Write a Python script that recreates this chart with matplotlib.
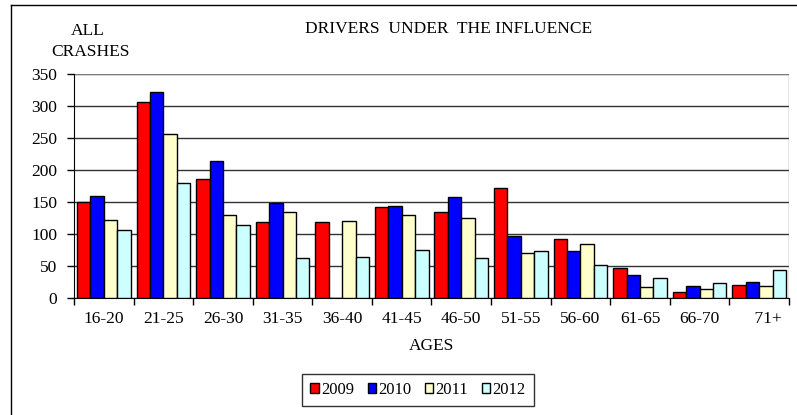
import matplotlib
matplotlib.use("Agg")
import matplotlib.pyplot as plt
import numpy as np
from matplotlib.lines import Line2D

categories = ["16-20", "21-25", "26-30", "31-35", "36-40", "41-45",
              "46-50", "51-55", "56-60", "61-65", "66-70", "    71+"]
years = ["2009", "2010", "2011", "2012"]
v2009 = [150, 307, 186, 118, 118, 142, 134, 172, 92, 47, 10, 21]
v2010 = [160, 322, 214, 149, 0, 144, 158, 97, 73, 36, 19, 25]
v2011 = [122, 257, 129, 134, 121, 129, 125, 71, 84, 17, 14, 19]
v2012 = [107, 179, 114, 62, 64, 75, 62, 73, 51, 32, 23, 43]
yticks = [0, 50, 100, 150, 200, 250, 300, 350]

colors = ["#FF0000", "#0000FF", "#FFFFCC", "#CCFFFF"]
series = [v2009, v2010, v2011, v2012]

plt.rcParams['font.family'] = ['Liberation Serif', 'DejaVu Serif']
FS = 12.5

fig = plt.figure(figsize=(7.97, 4.15), dpi=100)
ax = fig.add_axes([74/797, (415-298)/415, (789-74)/797, (298-74)/415])

x = np.arange(len(categories))
w = 0.225
for i, (vals, c, yr) in enumerate(zip(series, colors, years)):
    ax.bar(x + (i - 1.5) * w, vals, width=w, color=c, edgecolor="black",
           linewidth=1.0, label=yr, zorder=3)

ax.set_xlim(-0.5, len(categories) - 0.5)
ax.set_ylim(0, 350)
ax.set_yticks(yticks)
ax.set_yticklabels([str(t) for t in yticks], fontsize=FS)
ax.yaxis.grid(True, color="#333333", linewidth=1.0, zorder=0)
ax.set_axisbelow(True)

ax.set_xticks(x)
ax.set_xticklabels(categories, fontsize=FS)
ax.tick_params(axis="x", which="major", length=0, pad=9)
ax.set_xticks(np.arange(-0.5, len(categories) + 0.5, 1), minor=True)
ax.tick_params(axis="x", which="minor", length=5, width=1, direction="out", color="black")
ax.tick_params(axis="y", length=5, width=1, direction="out", pad=7)

for s in ["top", "right"]:
    ax.spines[s].set_visible(False)
ax.spines["left"].set_color("black")
ax.spines["bottom"].set_color("black")
ax.axvline(len(categories) - 0.5, color="#888888", linewidth=1.0)
ax.axhline(350, color="#888888", linewidth=1.2, zorder=1)

fig.text(449/797, 1 - 29/415, "DRIVERS  UNDER  THE INFLUENCE", ha="center", va="center", fontsize=FS)
fig.text(88/797, 1 - 31/415, "ALL", ha="center", va="center", fontsize=FS)
fig.text(90/797, 1 - 52/415, "CRASHES", ha="center", va="center", fontsize=FS)
fig.text(432/797, 1 - 346/415, "AGES", ha="center", va="center", fontsize=FS)

leg = fig.legend(loc="center", bbox_to_anchor=(418/797, 1 - 390/415), ncol=4,
                 fontsize=12, frameon=True, fancybox=False, edgecolor="black",
                 handlelength=0.5, handleheight=0.5, handletextpad=0.15,
                 columnspacing=0.8, borderpad=0.5, borderaxespad=0)
leg.get_frame().set_linewidth(1.0)

fig.add_artist(Line2D([11/797, 11/797], [0, 1 - 5/415], transform=fig.transFigure, color="black", linewidth=1.0))
fig.add_artist(Line2D([11/797, 1], [1 - 5/415, 1 - 5/415], transform=fig.transFigure, color="black", linewidth=1.0))

fig.savefig("out.png", dpi=100)
